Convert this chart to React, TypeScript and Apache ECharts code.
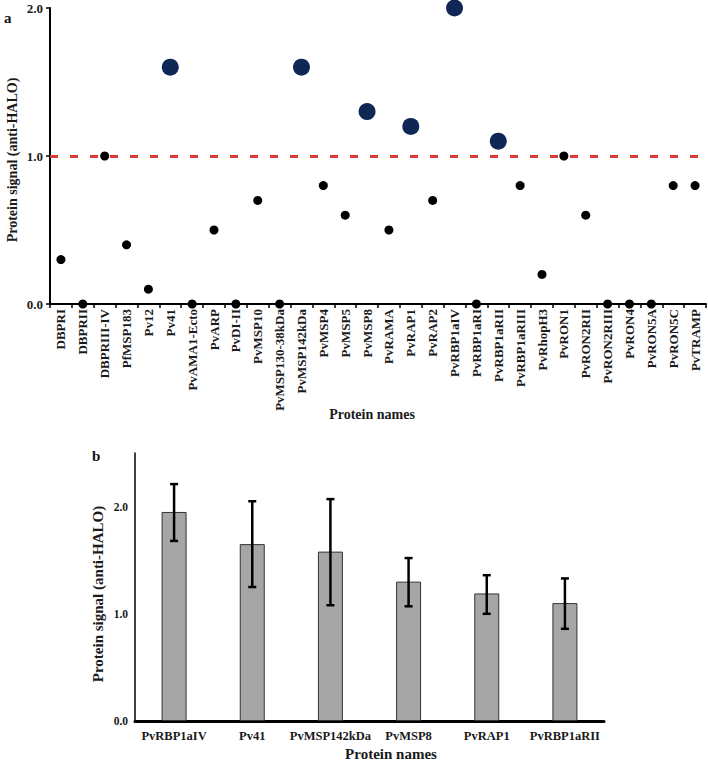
import React, { useEffect, useRef } from "react";
import * as echarts from "echarts";

const proteinNames = [
  "DBPRI", "DBPRII", "DBPRIII-IV", "PfMSP183", "Pv12", "Pv41", "PvAMA1-Ecto", "PvARP",
  "PvDI-II", "PvMSP10", "PvMSP130-38kDa", "PvMSP142kDa", "PvMSP4", "PvMSP5", "PvMSP8",
  "PvRAMA", "PvRAP1", "PvRAP2", "PvRBP1aIV", "PvRBP1aRI", "PvRBP1aRII", "PvRBP1aRIII",
  "PvRhopH3", "PvRON1", "PvRON2RII", "PvRON2RIII", "PvRON4", "PvRON5A", "PvRON5C", "PvTRAMP",
];
const proteinSignal = [
  0.3, 0, 1.0, 0.4, 0.1, 1.6, 0, 0.5,
  0, 0.7, 0, 1.6, 0.8, 0.6, 1.3,
  0.5, 1.2, 0.7, 2.0, 0, 1.1, 0.8,
  0.2, 1.0, 0.6, 0, 0, 0, 0.8, 0.8,
];
const threshold = 1.0;
const yTicksA = [0, 1, 2];

const topNames = ["PvRBP1aIV", "Pv41", "PvMSP142kDa", "PvMSP8", "PvRAP1", "PvRBP1aRII"];
const topMeans = [1.95, 1.65, 1.58, 1.30, 1.19, 1.10];
const topErrHigh = [2.21, 2.05, 2.07, 1.52, 1.36, 1.33];
const topErrLow = [1.68, 1.25, 1.08, 1.07, 1.00, 0.86];

const SERIF = "'Liberation Serif', 'Times New Roman', 'DejaVu Serif', serif";

export default function App() {
  const ref = useRef<HTMLDivElement>(null);
  useEffect(() => {
    if (!ref.current) return;
    const chart = echarts.init(ref.current, undefined, { renderer: "svg" });
    const labelBold = { fontFamily: SERIF, fontWeight: "bold" as const, color: "#1a1a1a" };
    const option: any = {
      animation: false,
      backgroundColor: "#ffffff",
      grid: [
        { left: 50, top: 8, width: 656, bottom: 460 },
        { left: 135, top: 453, width: 469, bottom: 43 },
      ],
      xAxis: [
        {
          gridIndex: 0,
          type: "category",
          data: proteinNames,
          axisLine: { lineStyle: { color: "#000", width: 2 } },
          axisTick: { show: true, length: 4, lineStyle: { color: "#000", width: 1.5 } },
          axisLabel: { ...labelBold, rotate: 90, interval: 0, fontSize: 13, margin: 5 },
        },
        {
          gridIndex: 1,
          type: "category",
          data: topNames,
          axisLine: { lineStyle: { color: "#000", width: 3 } },
          axisTick: { show: false },
          axisLabel: { ...labelBold, interval: 0, fontSize: 12.5, margin: 8 },
        },
      ],
      yAxis: [
        {
          gridIndex: 0,
          type: "value",
          min: yTicksA[0],
          max: yTicksA[yTicksA.length - 1],
          interval: 1,
          splitLine: { show: false },
          axisLine: { show: true, lineStyle: { color: "#000", width: 2 } },
          axisTick: { show: true, length: 4, lineStyle: { color: "#000", width: 1.5 } },
          axisLabel: { ...labelBold, fontSize: 13, margin: 7, formatter: (v: number) => v.toFixed(1) },
        },
        {
          gridIndex: 1,
          type: "value",
          min: 0,
          max: 2.5,
          interval: 1,
          splitLine: { show: false },
          axisLine: { show: true, lineStyle: { color: "#000", width: 1.5 } },
          axisTick: { show: false },
          axisLabel: {
            ...labelBold,
            fontSize: 11.5,
            margin: 7,
            formatter: (v: number) => (Number.isInteger(v) ? v.toFixed(1) : ""),
          },
        },
      ],
      series: [
        {
          type: "scatter",
          xAxisIndex: 0,
          yAxisIndex: 0,
          data: proteinSignal,
          symbolSize: (v: number) => (v > threshold ? 17 : 9),
          itemStyle: {
            opacity: 1,
            color: (p: any) => (p.value > threshold ? "#0f2755" : "#000000"),
          },
          z: 2,
        },
        {
          type: "line",
          xAxisIndex: 0,
          yAxisIndex: 0,
          data: [],
          z: 5,
          markLine: {
            silent: true,
            symbol: "none",
            label: { show: false },
            lineStyle: { color: "#d83a36", width: 3, type: [8, 12] },
            data: [{ yAxis: threshold }],
          },
        },
        {
          type: "bar",
          xAxisIndex: 1,
          yAxisIndex: 1,
          data: topMeans,
          barWidth: 25,
          itemStyle: { color: "#a6a6a6", borderColor: "#333333", borderWidth: 1 },
        },
        {
          type: "custom",
          xAxisIndex: 1,
          yAxisIndex: 1,
          data: topNames.map((_, i) => [i, topErrLow[i], topErrHigh[i]]),
          z: 10,
          renderItem: (_params: any, api: any) => {
            const i = api.value(0);
            const lo = api.coord([i, api.value(1)]);
            const hi = api.coord([i, api.value(2)]);
            const cap = 4;
            const style = { stroke: "#000", lineWidth: 2.5 };
            return {
              type: "group",
              children: [
                { type: "line", shape: { x1: hi[0], y1: hi[1], x2: lo[0], y2: lo[1] }, style },
                { type: "line", shape: { x1: hi[0] - cap, y1: hi[1], x2: hi[0] + cap, y2: hi[1] }, style },
                { type: "line", shape: { x1: lo[0] - cap, y1: lo[1], x2: lo[0] + cap, y2: lo[1] }, style },
              ],
            };
          },
        },
      ],
      graphic: [
        { type: "text", left: 4, top: 10, style: { text: "a", font: `bold 15px ${SERIF}`, fill: "#111" } },
        { type: "text", left: 92, top: 448, style: { text: "b", font: `bold 15px ${SERIF}`, fill: "#111" } },
        {
          type: "text",
          x: 12,
          y: 160,
          rotation: Math.PI / 2,
          style: {
            text: "Protein signal (anti-HALO)",
            font: `bold 14px ${SERIF}`,
            fill: "#1a1a1a",
            align: "center",
            verticalAlign: "middle",
          },
        },
        {
          type: "text",
          x: 372,
          y: 414,
          style: {
            text: "Protein names",
            font: `bold 14px ${SERIF}`,
            fill: "#1a1a1a",
            align: "center",
            verticalAlign: "middle",
          },
        },
        {
          type: "text",
          x: 98,
          y: 594,
          rotation: Math.PI / 2,
          style: {
            text: "Protein signal (anti-HALO)",
            font: `bold 15px ${SERIF}`,
            fill: "#1a1a1a",
            align: "center",
            verticalAlign: "middle",
          },
        },
        {
          type: "text",
          x: 391,
          y: 754,
          style: {
            text: "Protein names",
            font: `bold 15px ${SERIF}`,
            fill: "#1a1a1a",
            align: "center",
            verticalAlign: "middle",
          },
        },
      ],
    };
    chart.setOption(option);
    return () => chart.dispose();
  }, []);
  return (
    <div
      ref={ref}
      style={{ position: "fixed", left: 0, top: 0, width: 708, height: 764, background: "#fff" }}
    />
  );
}
